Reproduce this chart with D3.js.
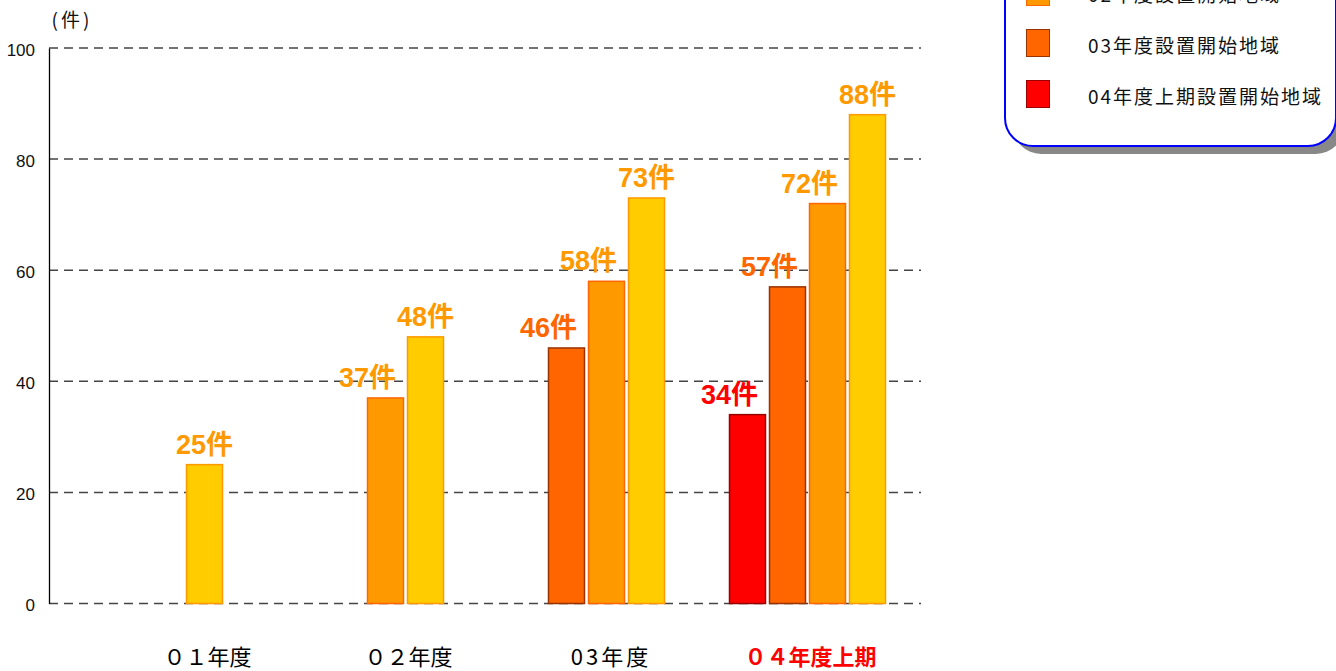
<!DOCTYPE html>
<html lang="ja">
<head>
<meta charset="utf-8">
<title>設置開始地域別 件数</title>
<script src="https://cdn.jsdelivr.net/npm/d3@7"></script>
<style>
  html, body { margin: 0; padding: 0; background: #fff; }
  svg { display: block; }
</style>
</head>
<body>
<svg id="chart" width="1336" height="671"></svg>
<script>
// Categories (fiscal periods) and the series drawn inside each group
const categories = ["01年度", "02年度", "03年度", "04年度上期"];
const categoryLabels = ["０１年度", "０２年度", "03年度", "０４年度上期"];
const seriesNames = ["01年度設置開始地域", "02年度設置開始地域", "03年度設置開始地域", "04年度上期設置開始地域"];

// Counts per series, one entry per category (null = not yet started)
const values01 = [25, 48, 73, 88];
const values02 = [null, 37, 58, 72];
const values03 = [null, null, 46, 57];
const values04 = [null, null, null, 34];

const yTicks = [0, 20, 40, 60, 80, 100];

// Styling per series
const fills = ["#FFCC00", "#FF9900", "#FF6600", "#FF0000"];
const strokes = ["#FF9900", "#FF6600", "#993300", "#990000"];
const labelColors = ["#FF9900", "#FF9900", "#FF6600", "#FF0000"];

const seriesValues = [values01, values02, values03, values04];

const svg = d3.select("#chart");
const plot = { left: 49, right: 921, top: 48, bottom: 603.5 };

const y = d3.scaleLinear().domain([0, 100]).range([plot.bottom, plot.top]);
const x = d3.scaleBand().domain(categories).range([104, 908]);
const barStep = 40, barWidth = 36;

// Dashed horizontal gridlines
svg.append("g")
  .selectAll("line")
  .data(yTicks)
  .join("line")
  .attr("x1", plot.left).attr("x2", plot.right)
  .attr("y1", d => y(d)).attr("y2", d => y(d))
  .attr("stroke", "#444")
  .attr("stroke-width", 1.5)
  .attr("stroke-dasharray", "9 6");

// Y axis (line + tick labels)
const yAxis = d3.axisLeft(y).tickValues(yTicks).tickSize(0).tickPadding(14);
const yg = svg.append("g").attr("transform", `translate(${plot.left},0)`).call(yAxis);
yg.select(".domain").attr("stroke", "#000").attr("stroke-width", 1.3);
yg.selectAll("text")
  .attr("font-family", "'Liberation Sans', Arial, sans-serif")
  .attr("font-size", 17)
  .attr("fill", "#111")
  .attr("dy", "0.42em");

// Unit label
svg.append("text")
  .attr("x", 72).attr("y", 27)
  .attr("text-anchor", "middle")
  .attr("font-family", "'Noto Sans CJK JP', sans-serif")
  .attr("font-size", 19)
  .attr("letter-spacing", 3)
  .attr("fill", "#111")
  .text("(件)");

// Flatten into bar records; within a group, latest series first (left)
const bars = [];
categories.forEach((cat, ci) => {
  const present = [3, 2, 1, 0].filter(si => seriesValues[si][ci] != null);
  const cx = x(cat) + x.bandwidth() / 2;
  const inner = d3.scaleBand()
    .domain(present)
    .range([cx - present.length * barStep / 2, cx + present.length * barStep / 2]);
  present.forEach((si, k) => {
    bars.push({
      cat, si, value: seriesValues[si][ci],
      x0: inner(si) + (barStep - barWidth) / 2,
      last: k === present.length - 1
    });
  });
});

svg.append("g")
  .selectAll("rect")
  .data(bars)
  .join("rect")
  .attr("x", d => d.x0)
  .attr("y", d => y(d.value))
  .attr("width", barWidth)
  .attr("height", d => y(0) - y(d.value))
  .attr("fill", d => fills[d.si])
  .attr("stroke", d => strokes[d.si])
  .attr("stroke-width", 1.5);

// Value labels above bars
svg.append("g")
  .selectAll("text")
  .data(bars)
  .join("text")
  .attr("x", d => d.x0 + barWidth / 2 - (d.last ? 0 : barWidth / 2))
  .attr("y", d => y(d.value) - 11)
  .attr("text-anchor", "middle")
  .attr("font-family", "'Liberation Sans', Arial, 'Noto Sans CJK JP', sans-serif")
  .attr("font-weight", "bold")
  .attr("font-size", 27)
  .attr("fill", d => labelColors[d.si])
  .text(d => d.value + "件");

// Category labels (half-width digits get extra tracking)
svg.append("g")
  .selectAll("text")
  .data(categories)
  .join("text")
  .attr("x", (d, i) => x(d) + x.bandwidth() / 2 + (/^[0-9]/.test(categoryLabels[i]) ? 1.5 : 0) + 3)
  .attr("y", 665)
  .attr("text-anchor", "middle")
  .attr("font-family", "'Noto Sans CJK JP', sans-serif")
  .attr("font-size", 22)
  .attr("letter-spacing", (d, i) => /^[0-9]/.test(categoryLabels[i]) ? 3 : 0)
  .attr("font-weight", (d, i) => i === categories.length - 1 ? "bold" : "normal")
  .attr("fill", (d, i) => i === categories.length - 1 ? "#FF0000" : "#000")
  .text((d, i) => categoryLabels[i]);

// Legend box with drop shadow
const legend = { x: 1005, y: -120, w: 331, h: 266, r: 28 };
svg.append("rect")
  .attr("x", legend.x + 8).attr("y", legend.y + 8)
  .attr("width", legend.w).attr("height", legend.h)
  .attr("rx", legend.r)
  .attr("fill", "#888");
svg.append("rect")
  .attr("x", legend.x).attr("y", legend.y)
  .attr("width", legend.w).attr("height", legend.h)
  .attr("rx", legend.r)
  .attr("fill", "#fff")
  .attr("stroke", "#0000FF")
  .attr("stroke-width", 2);

const legendRowY = d3.scalePoint().domain(seriesNames).range([-73, 80]);
const items = svg.append("g")
  .selectAll("g")
  .data(seriesNames)
  .join("g")
  .attr("transform", d => `translate(0,${legendRowY(d)})`);
items.append("rect")
  .attr("x", 1026.5).attr("y", 0.5)
  .attr("width", 23).attr("height", 27)
  .attr("fill", (d, i) => fills[i])
  .attr("stroke", (d, i) => strokes[i])
  .attr("stroke-width", 1);
items.append("text")
  .attr("x", 1088).attr("y", 24)
  .attr("font-family", "'Noto Sans CJK JP', sans-serif")
  .attr("font-size", 19)
  .attr("letter-spacing", 2)
  .attr("fill", "#111")
  .text(d => d);
</script>
</body>
</html>
